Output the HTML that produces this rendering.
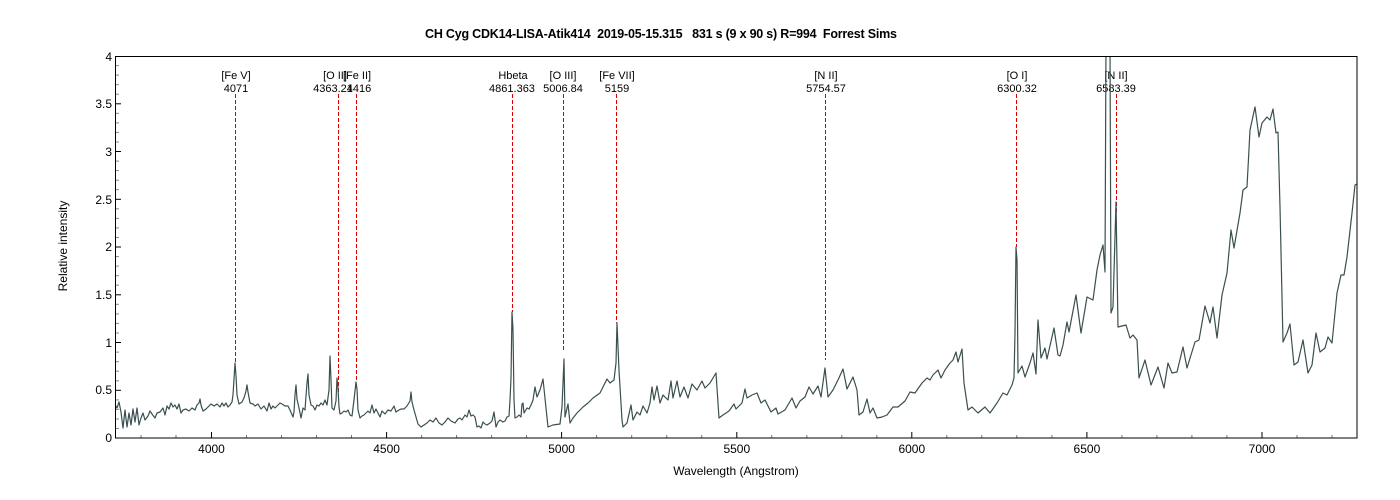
<!DOCTYPE html>
<html><head><meta charset="utf-8"><style>
html,body{margin:0;padding:0;background:#fff;}
svg{display:block;font-family:"Liberation Sans",Arial,sans-serif;}
</style></head><body>
<svg width="1400" height="500" viewBox="0 0 1400 500" xmlns="http://www.w3.org/2000/svg">
<rect width="1400" height="500" fill="#fff"/>
<text x="661" y="38" font-size="12.5" font-weight="bold" text-anchor="middle" textLength="472" fill="#000" style="white-space:pre" xml:space="preserve">CH Cyg CDK14-LISA-Atik414  2019-05-15.315   831 s (9 x 90 s) R=994  Forrest Sims</text>
<defs><clipPath id="c"><rect x="115" y="56" width="1242" height="382"/></clipPath></defs>
<g stroke="#000" stroke-width="1">
<line x1="211.5" y1="438" x2="211.5" y2="432"/><line x1="386.6" y1="438" x2="386.6" y2="432"/><line x1="561.6" y1="438" x2="561.6" y2="432"/><line x1="736.8" y1="438" x2="736.8" y2="432"/><line x1="911.8" y1="438" x2="911.8" y2="432"/><line x1="1086.9" y1="438" x2="1086.9" y2="432"/><line x1="1262" y1="438" x2="1262" y2="432"/>
</g>
<g stroke="#777" stroke-width="1">
<line x1="141" y1="438" x2="141" y2="435"/><line x1="176" y1="438" x2="176" y2="435"/><line x1="246.5" y1="438" x2="246.5" y2="435"/><line x1="281.5" y1="438" x2="281.5" y2="435"/><line x1="316.5" y1="438" x2="316.5" y2="435"/><line x1="351.5" y1="438" x2="351.5" y2="435"/><line x1="421.6" y1="438" x2="421.6" y2="435"/><line x1="456.6" y1="438" x2="456.6" y2="435"/><line x1="491.6" y1="438" x2="491.6" y2="435"/><line x1="526.6" y1="438" x2="526.6" y2="435"/><line x1="596.6" y1="438" x2="596.6" y2="435"/><line x1="631.7" y1="438" x2="631.7" y2="435"/><line x1="666.7" y1="438" x2="666.7" y2="435"/><line x1="701.7" y1="438" x2="701.7" y2="435"/><line x1="771.7" y1="438" x2="771.7" y2="435"/><line x1="806.8" y1="438" x2="806.8" y2="435"/><line x1="841.8" y1="438" x2="841.8" y2="435"/><line x1="876.8" y1="438" x2="876.8" y2="435"/><line x1="946.8" y1="438" x2="946.8" y2="435"/><line x1="981.8" y1="438" x2="981.8" y2="435"/><line x1="1016.8" y1="438" x2="1016.8" y2="435"/><line x1="1051.9" y1="438" x2="1051.9" y2="435"/><line x1="1121.9" y1="438" x2="1121.9" y2="435"/><line x1="1156.9" y1="438" x2="1156.9" y2="435"/><line x1="1191.9" y1="438" x2="1191.9" y2="435"/><line x1="1226.9" y1="438" x2="1226.9" y2="435"/><line x1="1297" y1="438" x2="1297" y2="435"/><line x1="1332" y1="438" x2="1332" y2="435"/>
</g>
<g font-size="12" fill="#000" text-anchor="middle">
<text x="211.5" y="453">4000</text><text x="386.6" y="453">4500</text><text x="561.6" y="453">5000</text><text x="736.8" y="453">5500</text><text x="911.8" y="453">6000</text><text x="1086.9" y="453">6500</text><text x="1262" y="453">7000</text>
</g>
<g font-size="12" fill="#000" text-anchor="end">
<text x="112" y="442">0</text><text x="112" y="347">1</text><text x="112" y="251">2</text><text x="112" y="156">3</text><text x="112" y="61">4</text>
<text x="112" y="394">0.5</text><text x="112" y="299">1.5</text><text x="112" y="204">2.5</text><text x="112" y="108">3.5</text>
</g>
<g stroke="#000" stroke-width="1">
<line x1="115" y1="390.3" x2="121" y2="390.3"/><line x1="115" y1="342.5" x2="121" y2="342.5"/><line x1="115" y1="294.8" x2="121" y2="294.8"/><line x1="115" y1="247" x2="121" y2="247"/><line x1="115" y1="199.3" x2="121" y2="199.3"/><line x1="115" y1="151.5" x2="121" y2="151.5"/><line x1="115" y1="103.8" x2="121" y2="103.8"/>
</g>
<g stroke="#888" stroke-width="1">
<line x1="115" y1="428.5" x2="119" y2="428.5"/><line x1="115" y1="419" x2="119" y2="419"/><line x1="115" y1="409.4" x2="119" y2="409.4"/><line x1="115" y1="399.9" x2="119" y2="399.9"/>
<line x1="115" y1="380.8" x2="119" y2="380.8"/><line x1="115" y1="371.2" x2="119" y2="371.2"/><line x1="115" y1="361.7" x2="119" y2="361.7"/><line x1="115" y1="352.1" x2="119" y2="352.1"/>
<line x1="115" y1="333" x2="119" y2="333"/><line x1="115" y1="323.4" x2="119" y2="323.4"/><line x1="115" y1="313.9" x2="119" y2="313.9"/><line x1="115" y1="304.3" x2="119" y2="304.3"/>
<line x1="115" y1="285.2" x2="119" y2="285.2"/><line x1="115" y1="275.7" x2="119" y2="275.7"/><line x1="115" y1="266.1" x2="119" y2="266.1"/><line x1="115" y1="256.6" x2="119" y2="256.6"/>
<line x1="115" y1="237.5" x2="119" y2="237.5"/><line x1="115" y1="227.9" x2="119" y2="227.9"/><line x1="115" y1="218.4" x2="119" y2="218.4"/><line x1="115" y1="208.8" x2="119" y2="208.8"/>
<line x1="115" y1="189.7" x2="119" y2="189.7"/><line x1="115" y1="180.2" x2="119" y2="180.2"/><line x1="115" y1="170.6" x2="119" y2="170.6"/><line x1="115" y1="161.1" x2="119" y2="161.1"/>
<line x1="115" y1="142" x2="119" y2="142"/><line x1="115" y1="132.4" x2="119" y2="132.4"/><line x1="115" y1="122.9" x2="119" y2="122.9"/><line x1="115" y1="113.3" x2="119" y2="113.3"/>
<line x1="115" y1="94.2" x2="119" y2="94.2"/><line x1="115" y1="84.7" x2="119" y2="84.7"/><line x1="115" y1="75.1" x2="119" y2="75.1"/><line x1="115" y1="65.6" x2="119" y2="65.6"/>
</g>
<text x="0" y="0" font-size="12" text-anchor="middle" transform="translate(67,246) rotate(-90)">Relative intensity</text>
<text x="736" y="475" font-size="12" text-anchor="middle">Wavelength (Angstrom)</text>
<g stroke="#e00000" stroke-width="1" stroke-dasharray="4,2">
<line x1="235.5" y1="94" x2="235.5" y2="363"/>
<line x1="338.5" y1="94" x2="338.5" y2="398"/>
<line x1="356.5" y1="94" x2="356.5" y2="382"/>
<line x1="512.5" y1="94" x2="512.5" y2="312"/>
<line x1="563.5" y1="94" x2="563.5" y2="352"/>
<line x1="616.5" y1="94" x2="616.5" y2="323"/>
<line x1="825.5" y1="94" x2="825.5" y2="360"/>
<line x1="1016.5" y1="94" x2="1016.5" y2="247"/>
<line x1="1116.5" y1="94" x2="1116.5" y2="213"/>
</g>
<g font-size="11" fill="#000" text-anchor="middle">
<text x="236" y="79">[Fe V]</text><text x="236" y="92">4071</text>
<text x="335" y="79">[O II]</text><text x="333" y="92">4363.21</text>
<text x="357" y="79">[Fe II]</text><text x="359" y="92">4416</text>
<text x="513" y="79">Hbeta</text><text x="512" y="92">4861.363</text>
<text x="563" y="79">[O III]</text><text x="563" y="92">5006.84</text>
<text x="617" y="79">[Fe VII]</text><text x="617" y="92">5159</text>
<text x="826" y="79">[N II]</text><text x="826" y="92">5754.57</text>
<text x="1017" y="79">[O I]</text><text x="1017" y="92">6300.32</text>
<text x="1116" y="79">[N II]</text><text x="1116" y="92">6583.39</text>
</g>
<polyline clip-path="url(#c)" fill="none" stroke="#3a4f4f" stroke-width="1.2" stroke-linejoin="round" points="
115,405 117,408 119,402 121,412 123,428 125,410 127,427 129,413 131,425 133,409 135,422 137,408 139,425 141,418 143,413 145,420 148,416 150,411 152,414 155,418 157,413 160,412 163,408 165,415 167,406 169,409 171,403 173,407 175,405 177,409 179,404 181,413 183,410 186,409 189,411 192,408 195,410 197,405 199,403 200,399 201,405 203,411 206,409 208,407 211,404 214,406 217,404 220,407 222,403 224,406 226,403 228,407 230,405 232,402 233,395 235,363 236,376 237,395 239,404 242,402 244,398 246,391 247,385 248,392 250,403 253,404 255,406 258,404 261,409 264,406 267,411 269,403 271,409 273,406 275,408 278,405 280,403 282,404 285,406 288,406 290,410 293,417 294,412 295,395 296,385 297,399 299,408 301,418 303,408 305,410 306,396 307,383 308,374 309,395 311,405 313,406 315,410 317,405 319,406 321,403 323,405 325,400 327,405 329,390 330,356 331,380 332,408 334,410 336,401 337,378 338,388 339,407 340,414 342,413 344,411 346,412 348,410 350,415 352,416 354,400 356,382 357,389 358,410 360,418 362,416 364,415 366,413 368,411 370,413 372,405 374,413 376,409 378,413 380,417 382,411 385,414 388,410 391,411 394,406 396,412 399,410 401,409 404,409 407,406 410,401 411,392 412,402 414,410 416,417 418,424 421,427 424,425 427,423 430,420 433,422 436,418 439,423 442,425 445,422 448,418 451,421 455,423 458,419 460,418 462,420 465,415 467,417 469,410 471,416 473,415 475,417 477,427 479,426 481,428 483,422 485,424 487,425 490,423 492,421 494,412 496,427 498,422 500,420 503,422 505,421 507,417 509,416 510,400 511,378 512,312 513,330 514,400 515,418 517,417 519,415 521,417 522,404 523,403 524,413 527,408 529,409 531,405 533,400 535,387 537,397 540,390 543,379 546,408 548,427 553,425 560,424 562,407 564,359 565,417 568,404 570,423 573,418 577,413 583,407 588,403 593,398 600,393 603,387 607,379 610,383 614,380 616,363 617,323 619,370 622,420 623,427 627,423 631,405 633,420 637,412 640,415 643,406 647,413 650,403 652,387 654,400 657,386 660,403 663,395 668,400 671,381 673,398 677,381 680,397 684,387 688,398 692,384 697,390 702,381 705,388 710,383 713,378 716,373 719,418 723,415 729,411 734,404 736,409 742,403 745,389 747,398 752,395 757,393 761,403 765,400 771,412 776,408 778,414 785,410 792,398 796,408 800,401 805,397 809,387 813,394 818,386 821,397 825,368 828,397 833,390 838,380 843,369 847,389 853,377 857,390 859,415 863,412 867,399 870,413 873,408 877,418 882,417 887,415 893,407 898,407 905,401 910,392 915,393 922,383 927,378 930,380 933,375 938,370 941,378 945,370 950,363 953,360 956,352 958,362 962,349 964,383 968,410 972,407 975,410 978,413 985,407 990,413 997,403 1003,393 1007,395 1012,385 1014,378 1015,333 1016,247 1017,260 1018,373 1022,366 1025,377 1030,363 1033,353 1036,374 1038,320 1041,358 1045,348 1047,359 1054,328 1058,355 1060,356 1063,345 1067,322 1069,332 1076,295 1081,333 1087,297 1093,300 1097,270 1100,255 1103,245 1105,272 1106,40 1110,40 1111,313 1113,307 1116,202 1118,327 1126,325 1130,338 1133,335 1137,340 1139,378 1145,360 1151,385 1158,367 1164,388 1168,363 1172,373 1177,372 1183,347 1187,368 1195,342 1199,340 1205,306 1210,323 1213,307 1217,338 1222,295 1227,273 1231,230 1234,248 1240,213 1243,190 1247,187 1250,130 1255,107 1259,137 1262,123 1267,117 1270,120 1273,109 1276,133 1278,132 1280,207 1283,342 1287,333 1290,324 1294,365 1298,362 1303,340 1308,373 1312,365 1316,333 1320,352 1325,348 1328,337 1332,343 1337,293 1341,275 1344,275 1347,257 1352,213 1355,185 1357,184
"/>
<rect x="115.5" y="56.5" width="1241.5" height="381.5" fill="none" stroke="#000" stroke-width="1"/>
</svg>
</body></html>
